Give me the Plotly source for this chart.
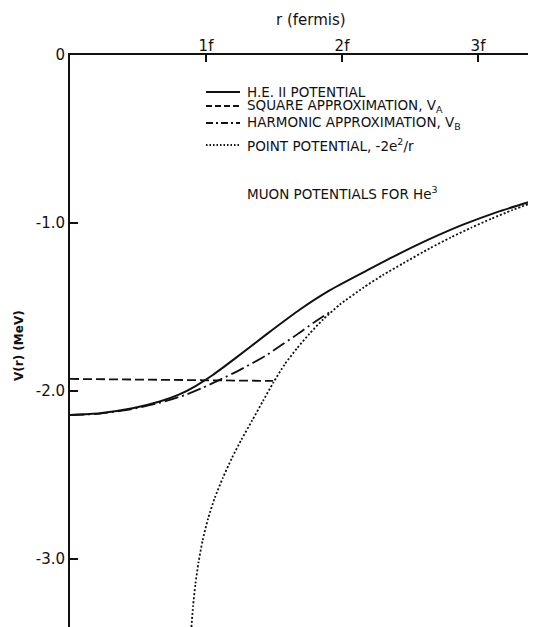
import plotly.graph_objects as go

# r in fermis, V in MeV
r_he2 = [0.0, 0.22, 0.46, 0.66, 0.80, 0.92, 1.05, 1.20, 1.449, 1.691, 1.912, 2.154, 2.404, 2.647, 2.890, 3.140, 3.426]
v_he2 = [-2.143, -2.132, -2.103, -2.063, -2.022, -1.972, -1.905, -1.815, -1.660, -1.515, -1.400, -1.295, -1.190, -1.095, -1.010, -0.935, -0.863]

r_square = [0.0, 0.75, 1.493]
v_square = [-1.928, -1.934, -1.940]

r_harm = [0.0, 0.22, 0.46, 0.66, 0.86, 0.978, 1.088, 1.25, 1.449, 1.566, 1.676, 1.787, 1.93]
v_harm = [-2.143, -2.135, -2.107, -2.070, -2.020, -1.980, -1.938, -1.874, -1.785, -1.720, -1.660, -1.596, -1.520]

r_point = [0.893, 0.905, 0.922, 0.945, 0.975, 1.015, 1.065, 1.125, 1.19, 1.26, 1.34, 1.42, 1.495,
           1.58, 1.67, 1.76, 1.86, 1.985, 2.157, 2.30, 2.45, 2.647, 2.80, 2.95, 3.10, 3.25, 3.426]
v_point = [-3.405, -3.28, -3.15, -3.02, -2.89, -2.76, -2.635, -2.515, -2.40, -2.29, -2.175, -2.058, -1.95,
           -1.84, -1.745, -1.66, -1.575, -1.485, -1.385, -1.31, -1.24, -1.15, -1.086, -1.028, -0.974, -0.924, -0.871]

x_ticks = [1, 2, 3]
x_tick_labels = ["1f", "2f", "3f"]
y_ticks = [0, -1, -2, -3]
y_tick_labels = ["0", "-1.0", "-2.0", "-3.0"]

legend_labels = [
    "H.E. II POTENTIAL",
    "SQUARE APPROXIMATION, V<sub>A</sub>",
    "HARMONIC APPROXIMATION, V<sub>B</sub>",
    "POINT POTENTIAL, -2e<sup>2</sup>/r",
]
title_text = "MUON POTENTIALS FOR He<sup>3</sup>"
x_title = "r (fermis)"
y_title = "V(r) (MeV)"

FONT = "DejaVu Sans"
INK = "#111111"

# page body has an 8px margin; figure is sized so it ends at the window edge
PAD = 8
W, H = 536 - PAD, 627 - PAD
L, T = 70 - PAD, 55 - PAD
PW, PH = W - L, H - T


def px(xs):  # screen x -> paper
    return (xs - PAD - L) / PW


def py(ys):  # screen y -> paper
    return 1 - (ys - PAD - T) / PH


fig = go.Figure()
fig.add_trace(go.Scatter(x=r_point, y=v_point, mode="lines", line_shape="spline",
                         line=dict(color=INK, width=1.8, dash="2px,2px", smoothing=0.6)))
fig.add_trace(go.Scatter(x=r_square, y=v_square, mode="lines",
                         line=dict(color=INK, width=1.8, dash="9px,4px")))
fig.add_trace(go.Scatter(x=r_harm, y=v_harm, mode="lines", line_shape="spline",
                         line=dict(color=INK, width=1.8, dash="14px,4px,2px,4px", smoothing=0.6)))
fig.add_trace(go.Scatter(x=r_he2, y=v_he2, mode="lines", line_shape="spline",
                         line=dict(color=INK, width=2, smoothing=0.6)))

# legend samples and text
styles = ["solid", "6px,3px", "7px,3px,2px,3px", "1.5px,2px"]
ys = [92, 106, 123, 145]
for lab, st, yp in zip(legend_labels, styles, ys):
    fig.add_shape(type="line", xref="paper", yref="paper",
                  x0=px(206), x1=px(240), y0=py(yp), y1=py(yp),
                  line=dict(color=INK, width=1.8, dash=st))
    fig.add_annotation(xref="paper", yref="paper", x=px(245), y=py(yp),
                       text=lab, showarrow=False, xanchor="left", yanchor="middle",
                       font=dict(family=FONT, size=13.5, color=INK))
fig.add_annotation(xref="paper", yref="paper", x=px(245), y=py(193),
                   text=title_text, showarrow=False, xanchor="left", yanchor="middle",
                   font=dict(family=FONT, size=13.5, color=INK))

# axis titles
fig.add_annotation(xref="paper", yref="paper", x=px(311), y=py(20),
                   text=x_title, showarrow=False, xanchor="center", yanchor="middle",
                   font=dict(family=FONT, size=15, color=INK))
fig.add_annotation(xref="paper", yref="paper", x=px(19), y=py(346),
                   text="<b>" + y_title + "</b>", showarrow=False, textangle=-90,
                   xanchor="center", yanchor="middle",
                   font=dict(family=FONT, size=12, color=INK))

fig.update_layout(
    width=W, height=H,
    margin=dict(l=L, r=0, t=T, b=0),
    paper_bgcolor="white", plot_bgcolor="white",
    showlegend=False,
    font=dict(family=FONT, size=14, color=INK),
    xaxis=dict(side="top", range=[0, PW / 136.0], tickvals=x_ticks, ticktext=x_tick_labels,
               showgrid=False, zeroline=False, showline=True, linecolor=INK, linewidth=2,
               ticks="inside", ticklen=7, tickcolor=INK, tickwidth=1.5, automargin=False,
               ticklabelstandoff=-4,
               tickfont=dict(family=FONT, size=15, color=INK)),
    yaxis=dict(range=[-PH / 168.0, 0], tickvals=y_ticks, ticktext=y_tick_labels,
               showgrid=False, zeroline=False, showline=True, linecolor=INK, linewidth=2,
               ticks="inside", ticklen=8, tickcolor=INK, tickwidth=1.5, automargin=False,
               tickfont=dict(family=FONT, size=15, color=INK)),
)

fig.write_html("out.html")
